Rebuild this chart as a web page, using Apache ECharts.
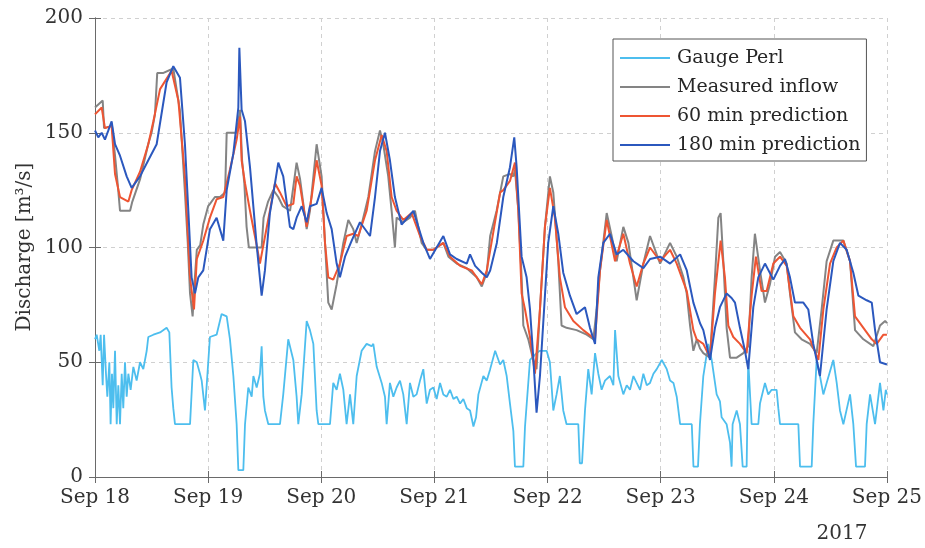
<!DOCTYPE html>
<html>
<head>
<meta charset="utf-8">
<script src="https://cdn.jsdelivr.net/npm/echarts@6/dist/echarts.min.js"></script>
<style>
html,body{margin:0;padding:0;background:#fff;}
#chart{width:925px;height:548px;}
</style>
</head>
<body>
<div id="chart"></div>
<script>
// x values are days after Sep 18 2017 00:00
const xTickLabels = ['Sep 18','Sep 19','Sep 20','Sep 21','Sep 22','Sep 23','Sep 24','Sep 25'];
const yTicks = [0, 50, 100, 150, 200];
const seriesNames = ['Gauge Perl','Measured inflow','60 min prediction','180 min prediction'];
const yearLabel = '2017';
const yAxisTitle = 'Discharge [m³/s]';

const gaugePerl = [[0,60],[0.015,62],[0.038,55],[0.05,62],[0.068,40],[0.08,62],[0.097,45],[0.109,35],[0.127,50],[0.138,23],[0.15,45],[0.162,30],[0.177,55],[0.192,23],[0.206,40],[0.221,23],[0.236,45],[0.25,30],[0.265,50],[0.28,35],[0.295,45],[0.315,38],[0.339,48],[0.368,42],[0.398,50],[0.427,47],[0.457,55],[0.471,61],[0.516,62],[0.575,63],[0.633,65],[0.657,63],[0.677,39],[0.692,30],[0.707,23],[0.84,23],[0.869,51],[0.9,50],[0.928,45],[0.943,42],[0.972,29],[1.001,50],[1.016,61],[1.075,62],[1.119,71],[1.164,70],[1.193,60],[1.223,44],[1.252,23],[1.267,3],[1.311,3],[1.326,23],[1.355,39],[1.385,35],[1.4,44],[1.429,39],[1.458,45],[1.473,57],[1.488,35],[1.502,29],[1.532,23],[1.635,23],[1.664,36],[1.708,60],[1.753,51],[1.782,35],[1.797,23],[1.827,36],[1.871,68],[1.9,64],[1.93,58],[1.959,29],[1.974,23],[2.077,23],[2.106,41],[2.136,38],[2.165,45],[2.195,38],[2.224,23],[2.254,36],[2.283,23],[2.313,44],[2.357,55],[2.401,58],[2.445,57],[2.46,58],[2.49,48],[2.534,41],[2.563,35],[2.578,23],[2.607,41],[2.637,35],[2.666,39],[2.696,42],[2.725,36],[2.755,23],[2.784,41],[2.814,35],[2.843,36],[2.873,42],[2.902,47],[2.932,32],[2.961,38],[2.991,39],[3.02,34],[3.05,41],[3.079,36],[3.109,35],[3.138,38],[3.168,34],[3.197,35],[3.227,32],[3.256,34],[3.286,30],[3.315,29],[3.345,22],[3.368,26],[3.389,36],[3.433,44],[3.463,42],[3.493,47],[3.537,55],[3.58,49],[3.609,51],[3.639,44],[3.668,32],[3.698,20],[3.712,4.5],[3.786,4.5],[3.801,22],[3.845,51],[3.903,54],[3.933,55],[3.992,55],[4.021,50],[4.051,29],[4.08,36],[4.109,44],[4.139,29],[4.168,23],[4.272,23],[4.285,6],[4.305,6],[4.331,29],[4.36,47],[4.39,36],[4.42,54],[4.449,45],[4.478,38],[4.508,42],[4.552,44],[4.582,40],[4.597,64],[4.626,44],[4.67,36],[4.7,40],[4.729,38],[4.759,44],[4.788,41],[4.818,38],[4.847,45],[4.877,40],[4.906,41],[4.936,45],[4.965,47],[5.01,51],[5.054,47],[5.083,42],[5.113,41],[5.142,35],[5.172,23],[5.275,23],[5.29,4.5],[5.33,4.5],[5.347,23],[5.377,44],[5.421,58],[5.451,51],[5.495,36],[5.524,33],[5.539,26],[5.583,23],[5.613,15],[5.627,4.5],[5.636,23],[5.672,29],[5.701,23],[5.725,4.5],[5.76,4.5],[5.774,51],[5.804,23],[5.863,23],[5.878,32],[5.922,41],[5.951,36],[5.981,38],[6.025,38],[6.04,30],[6.055,23],[6.217,23],[6.232,4.5],[6.335,4.5],[6.349,23],[6.379,51],[6.408,44],[6.438,36],[6.467,41],[6.526,51],[6.556,41],[6.585,29],[6.615,23],[6.674,36],[6.703,23],[6.727,4.5],[6.806,4.5],[6.821,23],[6.851,36],[6.895,23],[6.939,41],[6.969,29],[6.99,38],[7,36]];

const measuredInflow = [[0,161],[0.068,164],[0.08,152],[0.15,153],[0.177,140],[0.2,128],[0.221,116],[0.31,116],[0.33,120],[0.4,130],[0.47,145],[0.5,150],[0.53,158],[0.55,176],[0.6,176],[0.692,178],[0.75,160],[0.795,124],[0.82,102],[0.84,80],[0.863,70],[0.88,85],[0.9,99],[0.93,101],[0.957,110],[1.0,118],[1.016,119],[1.06,122],[1.105,122],[1.15,124],[1.164,150],[1.252,150],[1.282,160],[1.3,138],[1.32,128],[1.34,109],[1.36,100],[1.473,100],[1.49,113],[1.53,120],[1.576,125],[1.62,122],[1.66,118],[1.724,116],[1.782,137],[1.812,130],[1.871,108],[1.9,116],[1.959,145],[2.003,131],[2.033,102],[2.062,76],[2.092,73],[2.136,84],[2.195,102],[2.239,112],[2.283,108],[2.313,102],[2.357,110],[2.416,122],[2.475,142],[2.519,151],[2.548,145],[2.592,131],[2.622,116],[2.651,100],[2.666,113],[2.725,111],[2.784,113],[2.828,116],[2.887,102],[2.932,99],[2.991,99],[3.079,102],[3.124,96],[3.197,93],[3.286,91],[3.374,87],[3.419,83],[3.463,89],[3.493,105],[3.55,116],[3.609,131],[3.668,132],[3.698,131],[3.712,134],[3.742,116],[3.771,87],[3.786,66],[3.83,60],[3.874,51],[3.903,47],[3.933,73],[3.977,109],[4.021,131],[4.051,124],[4.095,94],[4.124,66],[4.168,65],[4.257,64],[4.346,62],[4.405,60],[4.434,73],[4.464,90],[4.523,115],[4.567,105],[4.611,94],[4.67,109],[4.715,102],[4.788,77],[4.847,93],[4.906,105],[4.965,97],[4.995,93],[5.083,102],[5.142,96],[5.201,87],[5.23,80],[5.26,66],[5.289,55],[5.319,60],[5.348,56],[5.377,54],[5.436,52],[5.48,87],[5.51,113],[5.53,115],[5.554,94],[5.583,65],[5.613,52],[5.672,52],[5.731,54],[5.774,57],[5.804,87],[5.833,106],[5.878,90],[5.922,76],[5.966,84],[6.011,96],[6.055,98],[6.114,93],[6.143,80],[6.187,63],[6.246,60],[6.32,58],[6.379,54],[6.423,73],[6.467,94],[6.526,103],[6.615,103],[6.674,94],[6.718,64],[6.792,60],[6.88,57],[6.939,66],[6.984,68],[7,67]];

const prediction60 = [[0,158],[0.059,161],[0.088,152],[0.147,153],[0.177,132],[0.221,122],[0.295,120],[0.324,125],[0.398,133],[0.471,145],[0.516,155],[0.575,169],[0.677,177],[0.737,164],[0.795,131],[0.84,87],[0.875,73],[0.9,95],[0.957,103],[1.016,113],[1.075,121],[1.134,122],[1.193,134],[1.252,147],[1.282,157],[1.296,138],[1.326,128],[1.37,116],[1.429,101],[1.458,93],[1.488,101],[1.546,116],[1.591,128],[1.635,124],[1.694,118],[1.753,119],[1.782,131],[1.812,127],[1.871,109],[1.915,122],[1.959,138],[2.003,127],[2.033,102],[2.062,87],[2.106,86],[2.165,93],[2.224,105],[2.283,106],[2.327,105],[2.401,116],[2.475,138],[2.534,149],[2.578,142],[2.622,122],[2.666,116],[2.725,112],[2.799,115],[2.873,105],[2.932,99],[2.991,99],[3.079,102],[3.138,96],[3.227,92],[3.33,90],[3.419,84],[3.463,90],[3.522,107],[3.581,124],[3.609,125],[3.668,129],[3.712,137],[3.742,116],[3.771,80],[3.801,73],[3.845,61],[3.889,45],[3.933,73],[3.977,109],[4.021,126],[4.065,113],[4.109,87],[4.154,74],[4.228,68],[4.316,64],[4.42,60],[4.464,90],[4.523,112],[4.597,94],[4.67,106],[4.729,93],[4.788,83],[4.847,93],[4.906,100],[4.995,94],[5.083,99],[5.142,93],[5.231,81],[5.289,64],[5.318,60],[5.377,58],[5.436,52],[5.48,80],[5.53,103],[5.568,87],[5.598,66],[5.642,61],[5.701,58],[5.76,54],[5.804,79],[5.842,96],[5.892,81],[5.937,81],[5.996,93],[6.055,96],[6.114,92],[6.173,70],[6.232,65],[6.32,60],[6.394,51],[6.438,73],[6.497,93],[6.556,100],[6.615,103],[6.674,94],[6.718,70],[6.792,65],[6.866,60],[6.91,58],[6.969,62],[7,62]];

const prediction180 = [[0,151],[0.029,148],[0.059,150],[0.088,147],[0.118,151],[0.147,155],[0.177,145],[0.221,140],[0.28,131],[0.324,126],[0.398,131],[0.471,138],[0.545,145],[0.633,172],[0.692,179],[0.751,174],[0.795,145],[0.825,116],[0.854,87],[0.884,80],[0.913,87],[0.957,90],[1.016,108],[1.075,113],[1.134,103],[1.164,125],[1.223,141],[1.267,161],[1.276,187],[1.296,160],[1.326,155],[1.37,135],[1.429,101],[1.473,79],[1.502,90],[1.546,115],[1.591,128],[1.62,137],[1.664,131],[1.723,109],[1.753,108],[1.782,113],[1.827,118],[1.871,111],[1.9,118],[1.959,119],[2.003,126],[2.048,115],[2.092,108],[2.136,93],[2.165,87],[2.21,96],[2.269,103],[2.342,111],[2.431,105],[2.475,122],[2.519,142],[2.563,150],[2.607,138],[2.651,122],[2.71,110],[2.814,116],[2.858,109],[2.902,102],[2.961,95],[3.079,105],[3.138,97],[3.197,95],[3.286,93],[3.315,97],[3.36,92],[3.419,89],[3.463,87],[3.493,90],[3.552,102],[3.609,122],[3.668,135],[3.706,148],[3.727,135],[3.771,96],[3.815,87],[3.845,73],[3.874,52],[3.903,28],[3.933,44],[3.962,67],[4.006,102],[4.051,118],[4.095,106],[4.139,89],[4.198,79],[4.257,71],[4.331,74],[4.375,65],[4.42,58],[4.449,87],[4.493,102],[4.552,106],[4.611,97],[4.67,99],[4.759,94],[4.847,91],[4.906,95],[4.995,96],[5.083,93],[5.172,97],[5.231,90],[5.289,76],[5.348,67],[5.377,64],[5.436,51],[5.48,65],[5.524,74],[5.583,80],[5.627,78],[5.657,76],[5.701,65],[5.745,55],[5.774,47],[5.819,74],[5.863,87],[5.922,93],[5.996,86],[6.055,92],[6.099,95],[6.143,87],[6.187,76],[6.261,76],[6.305,73],[6.349,58],[6.408,44],[6.467,73],[6.526,94],[6.585,102],[6.644,99],[6.703,89],[6.748,79],[6.821,77],[6.866,76],[6.895,64],[6.939,50],[7,49]];

const colors = ['#4DBEEE', '#848484', '#EE5533', '#2B58BE'];
const seriesData = [gaugePerl, measuredInflow, prediction60, prediction180];

const FONT = 'DejaVu Serif';
const chart = echarts.init(document.getElementById('chart'), null, {renderer: 'canvas'});
const axisColor = '#6a6a6a';
const gridLine = {show: true, lineStyle: {color: '#d0d0d0', type: [4, 4], width: 1}};

const option = {
  animation: false,
  backgroundColor: '#ffffff',
  color: colors,
  grid: {left: 95, right: 38, top: 18, bottom: 71, containLabel: false},
  legend: {
    orient: 'vertical',
    left: 613,
    top: 39,
    data: seriesNames.map((n, i) => ({name: n, icon: 'rect', itemStyle: {color: colors[i]}})),
    backgroundColor: '#ffffff',
    borderColor: '#555555',
    borderWidth: 1,
    padding: [9, 6, 6, 7],
    itemWidth: 50,
    itemHeight: 2,
    itemGap: 9,
    textStyle: {fontFamily: FONT, fontSize: 19, color: '#262626', padding: [0, 0, 0, 2], lineHeight: 20}
  },
  xAxis: [{
    type: 'value', min: 0, max: 7, interval: 1,
    axisLine: {show: true, lineStyle: {color: axisColor, width: 1}},
    axisTick: {show: true, inside: true, length: 6, lineStyle: {color: axisColor}},
    axisLabel: {fontFamily: FONT, fontSize: 20, color: '#333333', margin: 11,
      formatter: v => xTickLabels[Math.round(v)] || ''},
    splitLine: gridLine
  }, {
    type: 'value', min: 0, max: 7, interval: 1, position: 'top',
    axisLine: {show: true, lineStyle: {color: axisColor, width: 1}},
    axisTick: {show: true, inside: true, length: 6, lineStyle: {color: axisColor}},
    axisLabel: {show: false}, splitLine: {show: false}
  }],
  yAxis: [{
    type: 'value', min: yTicks[0], max: yTicks[yTicks.length - 1], interval: 50,
    axisLine: {show: true, lineStyle: {color: axisColor, width: 1}},
    axisTick: {show: true, inside: true, length: 6, lineStyle: {color: axisColor}},
    axisLabel: {fontFamily: FONT, fontSize: 20, color: '#333333', margin: 12},
    splitLine: gridLine
  }, {
    type: 'value', min: yTicks[0], max: yTicks[yTicks.length - 1], interval: 50, position: 'right',
    axisLine: {show: true, lineStyle: {color: axisColor, width: 1}},
    axisTick: {show: true, inside: true, length: 6, lineStyle: {color: axisColor}},
    axisLabel: {show: false}, splitLine: {show: false}
  }],
  graphic: [{
    type: 'text', x: 25, y: 247, rotation: Math.PI / 2,
    style: {text: yAxisTitle, fontFamily: FONT, fontSize: 20, fill: '#333333', align: 'center', verticalAlign: 'middle'}
  }, {
    type: 'text', x: 842, y: 534,
    style: {text: yearLabel, fontFamily: FONT, fontSize: 20, fill: '#333333', align: 'center', verticalAlign: 'middle'}
  }],
  series: seriesNames.map((name, i) => ({
    name: name,
    type: 'line',
    data: seriesData[i],
    symbol: 'none',
    showSymbol: false,
    clip: true,
    z: 2 + i,
    lineStyle: {width: i === 0 ? 1.8 : 2, color: colors[i]},
    itemStyle: {color: colors[i]}
  }))
};
chart.setOption(option);
</script>
</body>
</html>
